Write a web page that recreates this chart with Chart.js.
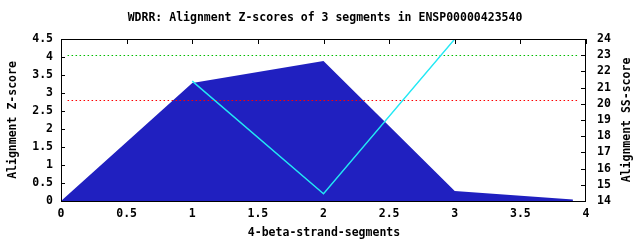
<!DOCTYPE html>
<html>
<head>
<script src="https://cdn.jsdelivr.net/npm/chart.js"></script>
<title>WDRR alignment z-scores</title>
<style>
  body { margin: 0; background: #fff; }
  #wrap { width: 640px; height: 240px; }
</style>
</head>
<body>
<div id="wrap"><canvas id="chart"></canvas></div>
<script>
  // values
  const segX = [0, 1, 2, 3, 3.9];
  const zScores = [0, 3.28, 3.89, 0.28, 0.04];
  const ssX = [1, 2, 3];
  const ssScores = [21.4, 14.45, 24.0];
  const greenZ = 4.042;
  const redZ = 2.792;
  const guideSpan = [0.05, 3.95];

  const xTicks = [0, 0.5, 1, 1.5, 2, 2.5, 3, 3.5, 4];
  const yTicks = [0, 0.5, 1, 1.5, 2, 2.5, 3, 3.5, 4, 4.5];
  const y2Ticks = [14, 15, 16, 17, 18, 19, 20, 21, 22, 23, 24];

  const titleText = 'WDRR: Alignment Z-scores of 3 segments in ENSP00000423540';
  const xTitle = '4-beta-strand-segments';
  const yTitle = 'Alignment Z-score';
  const y2Title = 'Alignment SS-score';

  const mono = { family: 'DejaVu Sans Mono', size: 11.5, weight: 'bold' };
  const monoCss = 'bold 11.5px "DejaVu Sans Mono"';

  const pts = (xs, ys) => xs.map((x, i) => ({ x: x, y: ys[i] }));
  const plain = v => String(+(+v).toFixed(2));
  const fixTicks = list => s => { s.ticks = list.map(v => ({ value: v })); };

  // box border, inward ticks and all the titles
  const frame = {
    id: 'frame',
    afterDatasetsDraw(chart) {
      const { ctx, chartArea: a, scales } = chart;
      ctx.save();
      ctx.strokeStyle = '#000';
      ctx.lineWidth = 1;
      ctx.beginPath();
      xTicks.forEach(v => {
        const px = Math.round(scales.x.getPixelForValue(v)) + 0.5;
        ctx.moveTo(px, a.top); ctx.lineTo(px, a.top + 5);
      });
      yTicks.forEach(v => {
        const py = Math.round(scales.y.getPixelForValue(v)) + 0.5;
        ctx.moveTo(a.left, py); ctx.lineTo(a.left + 4, py);
      });
      y2Ticks.forEach(v => {
        const py = Math.round(scales.y2.getPixelForValue(v)) + 0.5;
        ctx.moveTo(a.right, py); ctx.lineTo(a.right - 5, py);
      });
      ctx.stroke();
      ctx.strokeRect(a.left + 0.5, a.top + 0.5, a.right - a.left - 1, a.bottom - a.top);

      ctx.fillStyle = '#000';
      ctx.font = monoCss;
      ctx.textAlign = 'center';
      ctx.textBaseline = 'middle';
      ctx.fillText(titleText, 325, 18);
      ctx.fillText(xTitle, 324, 233);
      ctx.translate(13, 120);
      ctx.rotate(-Math.PI / 2);
      ctx.fillText(yTitle, 0, 0);
      ctx.rotate(Math.PI / 2);
      ctx.translate(627 - 13, 0);
      ctx.rotate(-Math.PI / 2);
      ctx.fillText(y2Title, 0, 0);
      ctx.restore();
    }
  };

  new Chart(document.getElementById('chart'), {
    type: 'line',
    data: {
      datasets: [
        {
          data: pts(guideSpan, [greenZ, greenZ]),
          yAxisID: 'y',
          borderColor: '#00c000',
          borderWidth: 1.2,
          borderDash: [1.5, 2.5],
          pointRadius: 0,
          fill: false,
          order: 1
        },
        {
          data: pts(guideSpan, [redZ, redZ]),
          yAxisID: 'y',
          borderColor: '#ff0000',
          borderWidth: 1.2,
          borderDash: [1.5, 2.5],
          pointRadius: 0,
          fill: false,
          order: 1
        },
        {
          data: pts(ssX, ssScores),
          yAxisID: 'y2',
          borderColor: '#22e8f4',
          borderWidth: 1.4,
          pointRadius: 0,
          fill: false,
          order: 0
        },
        {
          data: pts(segX, zScores),
          yAxisID: 'y',
          borderWidth: 0,
          borderColor: '#2020c0',
          backgroundColor: '#2020c0',
          pointRadius: 0,
          fill: 'origin',
          order: 3
        }
      ]
    },
    options: {
      responsive: true,
      maintainAspectRatio: false,
      animation: false,
      layout: { padding: { top: 39, left: 0, right: 0, bottom: 0 } },
      plugins: { legend: { display: false }, tooltip: { enabled: false } },
      scales: {
        x: {
          type: 'linear',
          min: 0, max: 4,
          grid: { display: false, drawTicks: false, tickLength: 0 },
          border: { display: false },
          ticks: { color: '#000', font: mono, padding: 6, maxRotation: 0, autoSkip: false, callback: plain },
          afterBuildTicks: fixTicks(xTicks),
          afterFit: s => { s.height = 39; }
        },
        y: {
          position: 'left',
          min: 0, max: 4.5,
          grid: { display: false, drawTicks: false, tickLength: 0 },
          border: { display: false },
          ticks: { color: '#000', font: mono, padding: 8, autoSkip: false, callback: plain },
          afterBuildTicks: fixTicks(yTicks),
          afterFit: s => { s.width = 61; }
        },
        y2: {
          position: 'right',
          min: 14, max: 24,
          grid: { display: false, drawTicks: false, tickLength: 0 },
          border: { display: false },
          ticks: { color: '#000', font: mono, padding: 11, autoSkip: false, callback: plain },
          afterBuildTicks: fixTicks(y2Ticks),
          afterFit: s => { s.width = 54; }
        }
      }
    },
    plugins: [frame]
  });
</script>
</body>
</html>
